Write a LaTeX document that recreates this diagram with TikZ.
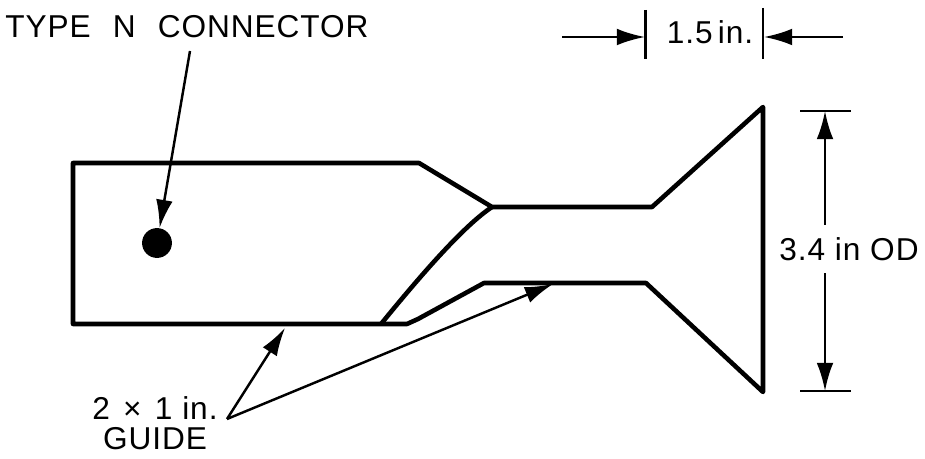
\documentclass[tikz,border=0pt]{standalone}
\usepackage{fontspec}
\setmainfont{Liberation Sans}
\newfontfamily\spaced[LetterSpace=3]{Liberation Sans}
\usetikzlibrary{arrows.meta}
\begin{document}
\begin{tikzpicture}[x=0.02cm,y=-0.02cm,>={Latex[length=16pt,width=9.5pt]}]
  \tikzstyle{lbl}=[inner sep=0pt,font=\fontsize{18}{17}\selectfont\spaced,align=center]
  \tikzstyle{outline}=[line width=2.6pt,line join=round]
  \tikzstyle{dimline}=[line width=1.4pt]
  \useasboundingbox (0,0) rectangle (925,459);
  % guide outline
  \coordinate (tl) at (73,163);
  \coordinate (tc) at (419,163);
  \coordinate (tip) at (492,207);
  \coordinate (tr) at (652,207);
  \coordinate (ftop) at (763,107);
  \coordinate (fbot) at (763,392);
  \coordinate (br) at (646,283);
  \coordinate (bc) at (484,283);
  \coordinate (bk) at (418,319);
  \coordinate (bb) at (407,324);
  \coordinate (cb) at (381,324);
  \coordinate (bl) at (73,324);
  \draw[outline] (tl) -- (tc) -- (tip) -- (tr) -- (ftop) -- (fbot) -- (br) -- (bc) -- (bk) -- (bb) -- (bl) -- cycle;
  \draw[outline] (tip) .. controls (465,225) and (425,270) .. (cb);
  \node[circle,fill,minimum size=17pt,inner sep=0pt] (conn) at (157,243) {};
  % labels
  \node[lbl] (ntype) at (187,27) {TYPE\hspace{7pt} N\hspace{7pt} CONNECTOR};
  \node[lbl] (nwidth) at (710,32) {1.5\,in.};
  \node[lbl,minimum height=27pt] (nod) at (849,249) {3.4 in OD};
  \node[lbl] (nguide) at (155,423) {2\hspace{2pt} ×\hspace{2pt} 1 in.\\GUIDE};
  \coordinate (nfrom) at (190,51);
  \coordinate (gfrom) at (227,419);
  \coordinate (gone) at (285,328);
  \coordinate (gtwo) at (553,284);
  \draw[->,dimline] (nfrom) -- (conn);
  \draw[->,dimline] (gfrom) -- (gone);
  \draw[->,dimline] (gfrom) -- (gtwo);
  % dimensions
  \coordinate (wl) at (645.5,10);
  \coordinate (wlb) at (645.5,59);
  \coordinate (wr) at (763,8);
  \coordinate (wrb) at (763,59);
  \draw[dimline] (wl) -- (wlb);
  \draw[dimline] (wr) -- (wrb);
  \coordinate (wla) at (562,37);
  \coordinate (wlt) at (645,37);
  \coordinate (wra) at (843,37);
  \coordinate (wrt) at (764,37);
  \draw[->,dimline] (wla) -- (wlt);
  \draw[->,dimline] (wra) -- (wrt);
  \coordinate (ot) at (800,111);
  \coordinate (otr) at (851,111);
  \coordinate (ob) at (800,391);
  \coordinate (obr) at (851,391);
  \draw[dimline] (ot) -- (otr);
  \draw[dimline] (ob) -- (obr);
  \coordinate (oat) at (825,111);
  \coordinate (oab) at (825,391);
  \draw[->,dimline] (nod.north -| oat) -- (oat);
  \draw[->,dimline] (nod.south -| oab) -- (oab);
\end{tikzpicture}
\end{document}
